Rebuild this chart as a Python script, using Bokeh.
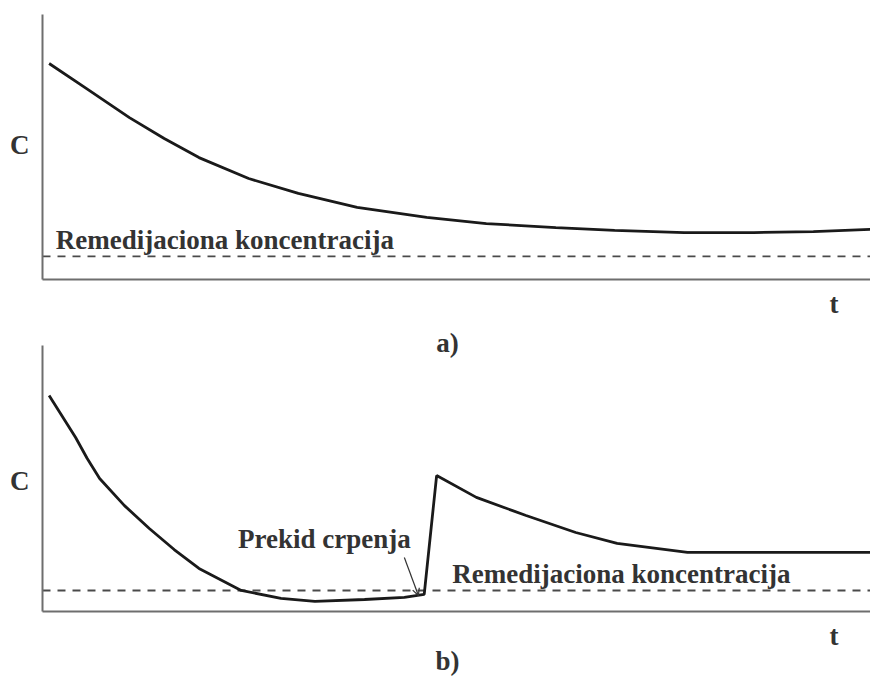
from bokeh.plotting import figure
from bokeh.layouts import column
from bokeh.models import Range1d, FixedTicker, Label, Arrow, OpenHead
from bokeh.embed import file_html
from bokeh.resources import INLINE

# Panel a) : concentration C over time t (continuous pumping)
t_a = [0.8, 5.1, 10.5, 14.7, 18.9, 24.9, 30.9, 38.0, 46.4, 53.6, 62.0, 69.1, 77.5, 85.9, 93.1, 100.0]
c_a = [81.5, 72.5, 61.1, 53.2, 46.0, 38.1, 32.5, 27.2, 23.4, 21.1, 19.6, 18.5, 17.7, 17.7, 18.1, 18.9]
remed_a = 8.7

# Panel b) : concentration with pumping interruption (rebound)
t_b = [0.8, 2.4, 4.0, 5.4, 6.9, 9.9, 12.9, 15.9, 18.9, 24.0, 28.8, 32.9, 38.9, 43.7, 46.1,
       47.6, 52.4, 58.4, 64.4, 69.4, 77.9, 85.9, 100.0]
c_b = [81.2, 73.3, 65.4, 57.5, 50.0, 39.8, 31.2, 23.3, 16.2, 7.9, 4.9, 3.8, 4.5, 5.3, 6.4,
       51.1, 42.9, 36.1, 29.7, 25.6, 22.2, 22.2, 22.2]
remed_b = 7.9

t_span = [0.0, 100.0]

y_label = "C"
x_label = "t"
remed_text = "Remedijaciona koncentracija"
stop_text = "Prekid crpenja"
panel_labels = ["a)", "b)"]

FONT = "Liberation Serif"
TXT = "#333333"
AX = "#6e6e6e"


def base_fig(height, y0, y1):
    p = figure(width=870, height=height, output_backend="svg", toolbar_location=None,
               x_range=Range1d(-5.072, 100), y_range=Range1d(y0, y1),
               min_border_left=0, min_border_right=0, min_border_top=0, min_border_bottom=0)
    p.grid.visible = False
    p.outline_line_color = None
    p.background_fill_color = "white"
    p.border_fill_color = "white"
    for ax in (p.xaxis[0], p.yaxis[0]):
        ax.ticker = FixedTicker(ticks=[])
        ax.major_label_text_font_size = "0px"
        ax.major_label_standoff = 0
        ax.major_tick_out = 0
        ax.major_tick_in = 0
        ax.major_tick_line_color = None
        ax.minor_tick_line_color = None
        ax.axis_line_color = AX
        ax.axis_line_width = 2
        ax.fixed_location = 0
        ax.bounds = (0, 100)
    return p


def txt(p, x, y, s, size="27px", baseline="alphabetic", align="left"):
    p.add_layout(Label(x=x, y=y, text=s, text_font=FONT, text_font_style="bold",
                       text_font_size=size, text_color=TXT, text_baseline=baseline,
                       text_align=align))


# ---- panel a
pa = base_fig(326, -17.74, 105.28)
pa.line(t_span, [remed_a, remed_a], line_color="#4a4a4a", line_width=1.8, line_dash="8 7")
pa.line(t_a, c_a, line_color="#1a1a1a", line_width=2.8)
txt(pa, 1.6, 14.9, remed_text)
txt(pa, -2.75, 50.6, y_label, baseline="middle", align="center")
txt(pa, 95.6, -9.4, x_label, baseline="middle", align="center")

# ---- panel b
pb = base_fig(350, -24.44, 107.14)
pb.line(t_span, [remed_b, remed_b], line_color="#4a4a4a", line_width=1.8, line_dash="8 7")
pb.line(t_b, c_b, line_color="#1a1a1a", line_width=2.8)
txt(pb, 49.5, 14.1, remed_text)
txt(pb, 23.6, 27.3, stop_text)
pb.add_layout(Arrow(x_start=43.7, y_start=20.3, x_end=45.4, y_end=6.0,
                    line_color="#333333", line_width=1.2,
                    end=OpenHead(size=7, line_color="#333333", line_width=1.2)))
txt(pb, -2.75, 49.2, y_label, baseline="middle", align="center")
txt(pb, 95.6, -9.4, x_label, baseline="middle", align="center")
txt(pb, 48.9, 100.9, panel_labels[0], align="center")
txt(pb, 48.9, -18.6, panel_labels[1], align="center")

layout = column(pa, pb, spacing=0)
open("out.html", "w").write(file_html(layout, INLINE))
